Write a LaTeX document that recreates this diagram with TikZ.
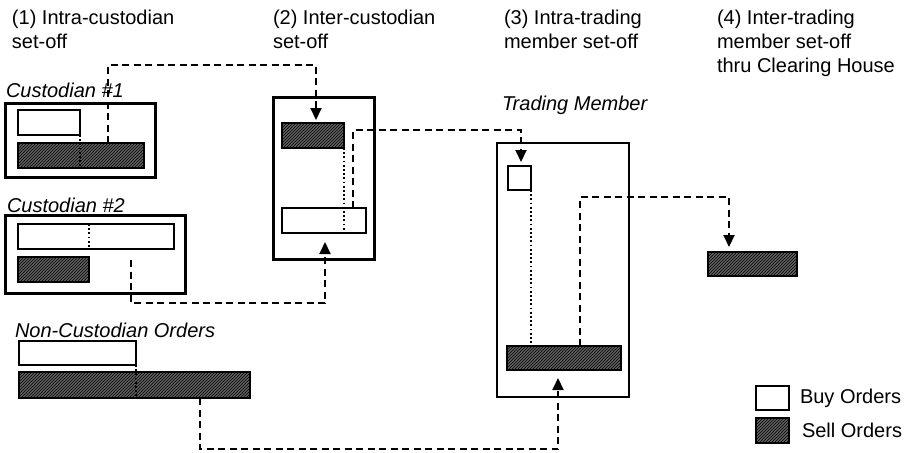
\documentclass[tikz,border=0pt]{standalone}
\usepackage{fontspec}
\setmainfont{Liberation Sans}
\usetikzlibrary{arrows.meta,patterns}
\begin{document}
\begin{tikzpicture}[x=1pt,y=-1pt,
  every node/.style={inner sep=0pt,outer sep=0pt},
  txt/.style={font=\fontsize{20}{24}\selectfont},
  itxt/.style={font=\fontsize{20}{24}\selectfont\itshape},
  heavybox/.style={draw,line width=3pt,rectangle},
  lightbox/.style={draw,line width=1.7pt,rectangle},
  buyorder/.style={draw,line width=1.6pt,rectangle,fill=white,minimum height=#1},
  buyorder/.default=25pt,
  sellorder/.style={draw,line width=1.6pt,rectangle,fill=black!62,
    postaction={pattern=north east lines,pattern color=black},minimum height=#1},
  sellorder/.default=25pt,
  flow/.style={line width=2pt,dash pattern=on 7pt off 4.5pt,
    -{Triangle[length=12pt,width=11pt]}},
  matchline/.style={line width=1.9pt,dash pattern=on 1.8pt off 2.4pt}
]
\fill[white] (0,0) rectangle (909,452);
\useasboundingbox (0,0) rectangle (909,452);

% column headings
\node[txt,anchor=north west,align=left] (h1) at (12,10.5) {(1) Intra-custodian\\set-off};
\node[txt,anchor=north west,align=left] (h2) at (273,10.5) {(2) Inter-custodian\\set-off};
\node[txt,anchor=north west,align=left] (h3) at (504,10.5) {(3) Intra-trading\\member set-off};
\node[txt,anchor=north west,align=left] (h4) at (717,10.5) {(4) Inter-trading\\member set-off\\thru Clearing House};

% custodian #1
\node[itxt,anchor=west] (l1) at (6,90) {Custodian \#1};
\node[heavybox,minimum width=150pt,minimum height=74pt] (c1) at (80,140) {};
\node[buyorder,minimum width=62pt] (c1buy) at (49,122.5) {};
\node[sellorder,minimum width=126pt] (c1sell) at (81,155.5) {};
\draw[matchline] (c1buy.south east) -- (c1buy.south east |- c1sell.south);

% custodian #2
\node[itxt,anchor=west] (l2) at (7,205) {Custodian \#2};
\node[heavybox,minimum width=180pt,minimum height=78pt] (c2) at (95,254) {};
\node[buyorder,minimum width=156pt] (c2buy) at (96,236.5) {};
\node[sellorder,minimum width=71pt] (c2sell) at (53.5,269.5) {};
\draw[matchline] (c2sell.east |- c2buy.north) -- (c2sell.east |- c2buy.south);

% non-custodian orders
\node[itxt,anchor=west] (l3) at (15,330) {Non-Custodian Orders};
\node[buyorder=24pt,minimum width=117pt] (ncbuy) at (77.5,353) {};
\node[sellorder=26pt,minimum width=231pt] (ncsell) at (134.5,385) {};
\draw[matchline] (ncbuy.south east) -- (ncbuy.south east |- ncsell.south);

% inter-custodian
\node[heavybox,minimum width=101pt,minimum height=162pt] (b2) at (323.5,178) {};
\node[sellorder,minimum width=62pt] (b2sell) at (313,135.5) {};
\node[buyorder,minimum width=84pt] (b2buy) at (324,220.5) {};
\draw[matchline] (b2sell.south east) -- (b2sell.south east |- b2buy.south);

% trading member
\node[itxt,anchor=west] (l4) at (502,105) {Trading Member};
\node[lightbox,minimum width=132pt,minimum height=254pt] (tm) at (563,270) {};
\node[buyorder=24pt,minimum width=23pt] (tmbuy) at (519.5,178) {};
\node[sellorder=24pt,minimum width=114pt] (tmsell) at (564,358) {};
\draw[matchline] (tmbuy.south east) -- (tmbuy.south east |- tmsell.north);

% clearing house
\node[sellorder=24pt,minimum width=89pt] (ch) at (752.5,264) {};

% flows of unmatched orders
\coordinate (j1) at (108,65);
\coordinate (j2) at (131,303);
\coordinate (j3) at (353,130);
\coordinate (j4) at (200,449);
\coordinate (j5) at (580,197);
\draw[flow,shorten >=3pt] (c1sell.north -| j1) -- (j1) -| ([xshift=3pt]b2sell.north);
\draw[flow,shorten <=11pt,shorten >=9pt] (c2buy.south -| j2) -- (j2) -| ([xshift=1pt]b2buy.south);
\draw[flow,shorten >=4pt] (b2buy.north -| j3) -- (j3) -| ([xshift=1.5pt]tmbuy.north);
\draw[flow,shorten >=8pt] (ncsell.south -| j4) -- (j4) -| ([xshift=-6pt]tmsell.south);
\draw[flow,shorten >=5pt] (tmsell.north -| j5) -- (j5) -| ([xshift=-23.5pt]ch.north);

% legend
\node[buyorder=24pt,line width=2pt,minimum width=33pt] (lgbuy) at (772.5,398) {};
\node[sellorder=25pt,line width=2pt,minimum width=33pt] (lgsell) at (772.5,430.5) {};
\node[txt,anchor=west] (lgbuyt) at (800,398) {Buy Orders};
\node[txt,anchor=west] (lgsellt) at (802,430.5) {Sell Orders};
\end{tikzpicture}
\end{document}
